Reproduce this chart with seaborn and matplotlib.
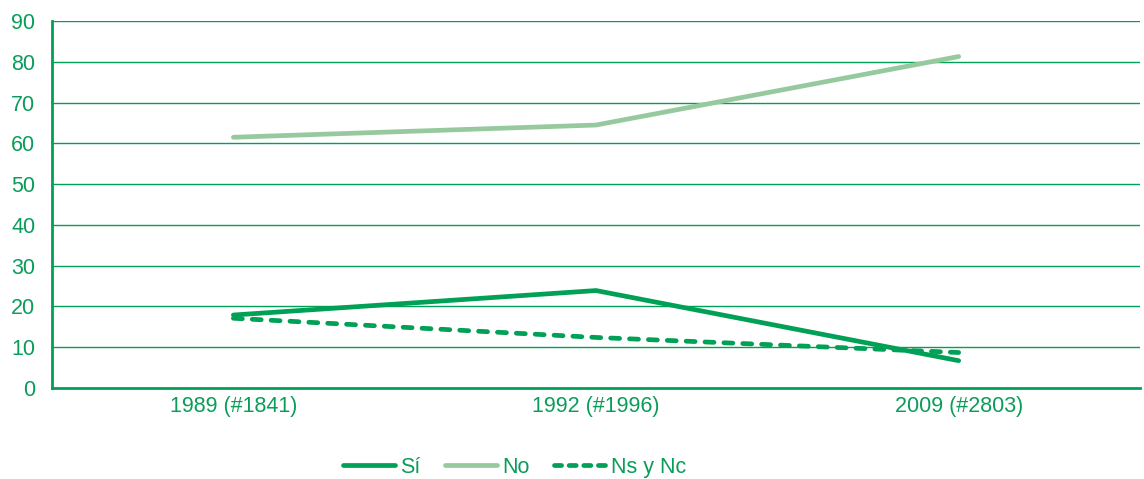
import matplotlib
matplotlib.use("Agg")
import matplotlib.pyplot as plt
from matplotlib.lines import Line2D
import seaborn as sns
import pandas as pd

# Survey waves (year and sample size)
waves = ["1989 (#1841)", "1992 (#1996)", "2009 (#2803)"]
si = [17.9, 23.9, 6.7]
no = [61.5, 64.5, 81.3]
ns_nc = [17.1, 12.4, 8.7]

series = ["Sí", "No", "Ns y Nc"]
df = pd.DataFrame({
    "pos": list(range(len(waves))) * 3,
    "valor": si + no + ns_nc,
    "respuesta": [series[0]] * 3 + [series[1]] * 3 + [series[2]] * 3,
})

sns.set_theme(style="white")
plt.rcParams["font.family"] = ["Liberation Sans", "DejaVu Sans"]

dark = "#00a056"
light = "#97c99f"
txt = "#0a9d5a"
lw = 3.4
dot = (1.9, 2.1)

fig = plt.figure(figsize=(11.44, 4.79), dpi=100)
ax = fig.add_axes([0.0455, 0.19, 0.951, 0.766])

palette = {"Sí": dark, "No": light, "Ns y Nc": dark}
dashes = {"Sí": "", "No": "", "Ns y Nc": dot}
sns.lineplot(data=df, x="pos", y="valor", hue="respuesta", style="respuesta",
             palette=palette, dashes=dashes, linewidth=lw, ax=ax,
             legend=False, solid_capstyle="round", dash_capstyle="round",
             zorder=3)

ax.set_xlim(-0.5, 2.5)
ax.set_ylim(0, 90)
ax.set_yticks(range(0, 91, 10))
ax.set_xticks(range(len(waves)))
ax.set_xticklabels(waves)
ax.set_xlabel("")
ax.set_ylabel("")

ax.grid(axis="y", color=dark, linewidth=1.0, zorder=1)
ax.grid(axis="x", visible=False)
for side in ["top", "right"]:
    ax.spines[side].set_visible(False)
for side in ["left", "bottom"]:
    ax.spines[side].set_color(dark)
    ax.spines[side].set_linewidth(2.0)
ax.tick_params(axis="both", colors=txt, labelsize=15.5, length=0)
ax.tick_params(axis="y", pad=12)
ax.tick_params(axis="x", pad=6)

handles = [
    Line2D([], [], color=dark, linewidth=lw, solid_capstyle="round"),
    Line2D([], [], color=light, linewidth=lw, solid_capstyle="round"),
    Line2D([], [], color=dark, linewidth=lw, dashes=(1.5, 1.6), dash_capstyle="round"),
]
leg = fig.legend(handles, series, loc="center", bbox_to_anchor=(0.45, 0.025),
                 ncol=3, frameon=False, fontsize=15.5, handlelength=2.4,
                 handletextpad=0.25, columnspacing=1.15)
for t in leg.get_texts():
    t.set_color(txt)

fig.savefig("out.png", dpi=100)
